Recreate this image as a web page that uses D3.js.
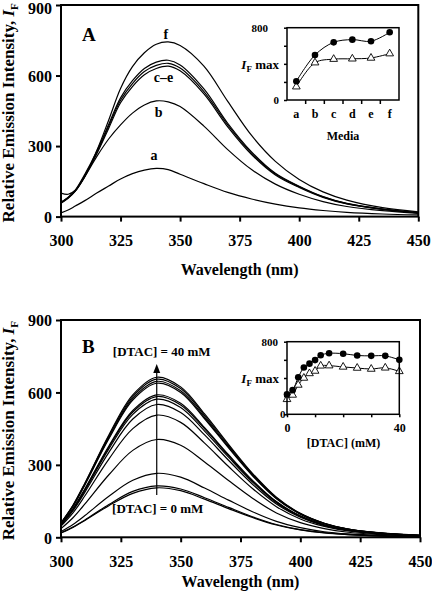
<!DOCTYPE html>
<html><head><meta charset="utf-8">
<script src="https://cdn.jsdelivr.net/npm/d3@7"></script>
<style>
body{margin:0;background:#fff}
svg{display:block}
text{font-family:"Liberation Serif","Times New Roman",serif;font-weight:bold;fill:#000}
</style>
</head><body><svg id="c" width="432" height="595"></svg>
<script>
// ---------- Panel A data ----------
const wavelengthsA = [300,303,306,310,315,320,325,330,335,340,345,350,360,370,380,390,400,410,420,435,450];
const specA_a = [16,28,45,68,100,130,160,183,198,205,200,180,140,103,75,53,37,26,18,11,7];
const specA_b = [62,80,108,170,255,330,390,440,475,492,488,468,385,285,200,138,95,64,43,25,14];
const specA_c = [57,78,108,172,266,375,484,553,603,630,640,620,522,382,264,177,124,82,54,31,16];
const specA_d = [60,82,113,180,278,392,505,578,630,657,665,645,543,397,275,184,129,85,56,32,17];
const specA_e = [58,80,110,176,272,384,495,566,617,643,652,632,532,390,270,181,127,84,55,32,16];
const specA_f = [100,95,112,170,280,410,545,638,697,733,743,728,640,490,345,235,158,105,70,38,20];
const curveLabelsA = ["a","b","c–e","f"];

// ---------- Panel B data ----------
const wavelengthsB = [300,305,310,320,330,340,350,360,370,380,390,400,410,420,435,450];
const specB_00 = [18,41,70,131,182,205,193,158,119,82,51,31,18,11,5,3];
const specB_02 = [19,43,72,136,190,213,200,164,124,85,53,32,19,11,5,3];
const specB_04 = [24,53,90,170,236,265,249,204,154,106,66,40,23,14,7,3];
const specB_06 = [36,81,138,259,360,405,381,312,235,162,101,61,36,21,10,5];
const specB_08 = [46,101,172,324,450,506,476,390,293,202,127,76,45,26,13,6];
const specB_10 = [50,110,187,352,490,550,517,424,319,220,138,83,48,29,14,7];
const specB_12 = [51,114,194,366,509,572,538,440,332,229,143,86,50,30,14,7];
const specB_15 = [52,117,198,373,519,583,548,449,338,233,146,87,51,30,15,7];
const specB_20 = [53,118,201,378,525,590,555,454,342,236,148,89,52,31,15,7];
const specB_25 = [57,128,217,408,568,638,600,491,370,255,160,96,56,33,16,8];
const specB_30 = [58,129,220,413,575,646,607,497,375,258,162,97,57,34,16,8];
const specB_35 = [59,131,223,419,583,655,616,504,380,262,164,98,58,34,16,8];
const specB_40 = [60,133,225,424,590,663,623,511,385,265,166,99,58,34,17,8];

// ---------- Inset data ----------
const mediaCats = ["a","b","c","d","e","f"];
const mediaCircle = [207,498,638,668,650,749];
const mediaTriangle = [147,413,452,456,465,513];
const dtacConc = [0,2,4,6,8,10,12,15,20,25,30,35,40];
const dtacCircle = [220,266,407,515,558,597,650,672,668,648,644,644,600];
const dtacTriangle = [165,213,323,400,450,477,534,536,522,510,499,512,473];

// ---------- Tick labels ----------
const xTicks = [300,325,350,375,400,425,450];
const yTicks = [0,300,600,900];
const insetYTicks = [0,200,400,600,800];
const insetBXTicks = [0,10,20,30,40];

const svg = d3.select("#c");

function yTitle(g, cx, cy) {
  const t = g.append("text").attr("transform", `translate(${cx},${cy}) rotate(-90)`)
    .attr("text-anchor","middle").style("font-size","17px");
  t.append("tspan").text("Relative Emission Intensity, ");
  t.append("tspan").style("font-style","italic").text("I");
  t.append("tspan").style("font-size","11px").attr("dy","4").text("F");
}

function ifmax(g, xr, y) {
  const t = g.append("text").attr("x", xr).attr("y", y).attr("text-anchor","end").style("font-size","13px");
  t.append("tspan").style("font-style","italic").text("I");
  t.append("tspan").style("font-size","9px").attr("dy","3").text("F");
  t.append("tspan").attr("dy","-3").text(" max");
}

function mainPanel(cfg) {
  const g = svg.append("g");
  const x = d3.scaleLinear([300,450],[cfg.x0,cfg.x1]);
  const y = d3.scaleLinear([0,900],[cfg.yb,cfg.yt]);
  const line = (ws) => d3.line().x((d,i)=>x(ws[i])).y(d=>y(d)).curve(d3.curveCatmullRom.alpha(0.5));
  cfg.series.forEach(s => {
    g.append("path").attr("d", line(cfg.ws)(s)).attr("fill","none").attr("stroke","#000").attr("stroke-width",1.2);
  });
  const xa = g.append("g").attr("transform",`translate(0,${cfg.yb})`)
    .call(d3.axisBottom(x).tickValues(xTicks).tickSize(5).tickPadding(13).tickFormat(d3.format("d")));
  const ya = g.append("g").attr("transform",`translate(${cfg.x0},0)`)
    .call(d3.axisLeft(y).tickValues(yTicks).tickSize(5).tickPadding(4).tickFormat(d3.format("d")));
  [xa,ya].forEach(a => {
    a.select(".domain").remove();
    a.selectAll("line").attr("stroke-width",2);
    a.selectAll("text").style("font-size","16px").style("font-family",null);
  });
  ya.selectAll("text").attr("dy", d => (d===900 ? cfg.topDy : "0.36em"));
  g.append("rect").attr("x",cfg.x0).attr("y",cfg.yt).attr("width",cfg.x1-cfg.x0).attr("height",cfg.yb-cfg.yt)
    .attr("fill","none").attr("stroke","#000").attr("stroke-width",2);
  g.append("text").attr("x",(cfg.x0+cfg.x1)/2).attr("y",cfg.titleY).attr("text-anchor","middle")
    .style("font-size","16px").text("Wavelength (nm)");
  yTitle(g, 13.5, (cfg.yt+cfg.yb)/2+2);
  g.append("text").attr("x",82).attr("y",cfg.letterY).style("font-size","19px").text(cfg.letter);
  return {g,x,y};
}

function inset(cfg) {
  const g = svg.append("g");
  g.append("rect").attr("x",cfg.x0).attr("y",cfg.yt).attr("width",cfg.x1-cfg.x0).attr("height",cfg.yb-cfg.yt)
    .attr("fill","#fff");
  const y = d3.scaleLinear([0,800],[cfg.yb,cfg.yt]);
  const ya = g.append("g").attr("transform",`translate(${cfg.x0},0)`)
    .call(d3.axisLeft(y).tickValues(insetYTicks).tickSize(3).tickFormat(""));
  ya.select(".domain").remove();
  ya.selectAll("line").attr("stroke-width",1.5);
  g.append("text").attr("x",cfg.lab800x).attr("y",y(800)+4).attr("text-anchor","end").style("font-size","11px").text("800");
  g.append("text").attr("x",cfg.lab0x).attr("y",y(0)+4).attr("text-anchor","end").style("font-size","11px").text("0");
  ifmax(g, 279, y(400)+5);
  const xp = cfg.xpos;
  const ln = d3.line().x((d,i)=>xp(i)).y(d=>y(d)).curve(d3.curveCatmullRom.alpha(0.5));
  g.append("path").attr("d",ln(cfg.circ)).attr("fill","none").attr("stroke","#000").attr("stroke-width",1);
  g.append("path").attr("d",ln(cfg.tri)).attr("fill","none").attr("stroke","#000").attr("stroke-width",1);
  cfg.tri.forEach((v,i)=>{
    g.append("path").attr("d",d3.symbol(d3.symbolTriangle,26)()).attr("transform",`translate(${xp(i)},${y(v)})`)
      .attr("fill","#fff").attr("stroke","#000").attr("stroke-width",0.9);
  });
  cfg.circ.forEach((v,i)=>{
    g.append("circle").attr("cx",xp(i)).attr("cy",y(v)).attr("r",3.3).attr("fill","#000");
  });
  g.append("rect").attr("x",cfg.x0).attr("y",cfg.yt).attr("width",cfg.x1-cfg.x0).attr("height",cfg.yb-cfg.yt)
    .attr("fill","none").attr("stroke","#000").attr("stroke-width",1.5);
  return {g,y};
}

// ---------- Panel A ----------
const A = mainPanel({x0:61,x1:418.3,yt:5,yb:216.6,letter:"A",letterY:41,titleY:275,topDy:"0.5em",ws:wavelengthsA,
  series:[specA_a,specA_b,specA_c,specA_d,specA_e,specA_f]});
[[curveLabelsA[3],344,754],[curveLabelsA[2],343,572],[curveLabelsA[1],341,422],[curveLabelsA[0],339,240]].forEach(([t,w,v])=>{
  A.g.append("text").attr("x",A.x(w)).attr("y",A.y(v)).attr("text-anchor","middle").style("font-size","14px").text(t);
});

// Inset A
const xA = d3.scaleBand(mediaCats,[287,399]);
const IA = inset({x0:287,x1:399,yt:27.7,yb:100,lab800x:268,lab0x:279,
  xpos:i=>xA(mediaCats[i])+xA.bandwidth()/2,circ:mediaCircle,tri:mediaTriangle});
const xAa = IA.g.append("g").attr("transform","translate(0,100)")
  .call(d3.axisBottom(xA).tickSize(0).tickPadding(9));
xAa.select(".domain").remove();
xAa.selectAll("text").style("font-size","12px").style("font-family",null);
mediaCats.slice(1).forEach(c=>{
  IA.g.append("line").attr("x1",xA(c)).attr("x2",xA(c)).attr("y1",100).attr("y2",104).attr("stroke","#000").attr("stroke-width",1.5);
});
IA.g.append("text").attr("x",343).attr("y",140).attr("text-anchor","middle").style("font-size","12px").text("Media");

// ---------- Panel B ----------
const B = mainPanel({x0:61,x1:420,yt:320,yb:537.3,letter:"B",letterY:353,titleY:587,topDy:"0.36em",ws:wavelengthsB,
  series:[specB_00,specB_02,specB_04,specB_06,specB_08,specB_10,specB_12,specB_15,specB_20,specB_25,specB_30,specB_35,specB_40]});
B.g.append("line").attr("x1",B.x(340)).attr("x2",B.x(340)).attr("y1",B.y(175)).attr("y2",B.y(690))
  .attr("stroke","#000").attr("stroke-width",1.2);
B.g.append("path").attr("d",`M${B.x(340)},${B.y(718)} l-3.5,9 l7,0 z`).attr("fill","#000");
B.g.append("text").attr("x",B.x(340)+5).attr("y",356).attr("text-anchor","middle").style("font-size","13px").text("[DTAC] = 40 mM");
B.g.append("text").attr("x",B.x(340)+1).attr("y",513).attr("text-anchor","middle").style("font-size","13px").text("[DTAC] = 0 mM");

// Inset B
const xB = d3.scaleLinear([0,40],[287,399.3]);
const IB = inset({x0:287,x1:399.3,yt:341.7,yb:414.3,lab800x:278,lab0x:285.5,
  xpos:i=>xB(dtacConc[i]),circ:dtacCircle,tri:dtacTriangle});
const xBa = IB.g.append("g").attr("transform","translate(0,414.3)")
  .call(d3.axisBottom(xB).tickValues(insetBXTicks).tickSize(3).tickPadding(6).tickFormat(d=>(d===0||d===40)?d:""));
xBa.select(".domain").remove();
xBa.selectAll("line").attr("stroke-width",1.5);
xBa.selectAll("text").style("font-size","12px").style("font-family",null);
IB.g.append("text").attr("x",343.5).attr("y",447).attr("text-anchor","middle").style("font-size","12px").text("[DTAC] (mM)");
</script>
</body></html>
